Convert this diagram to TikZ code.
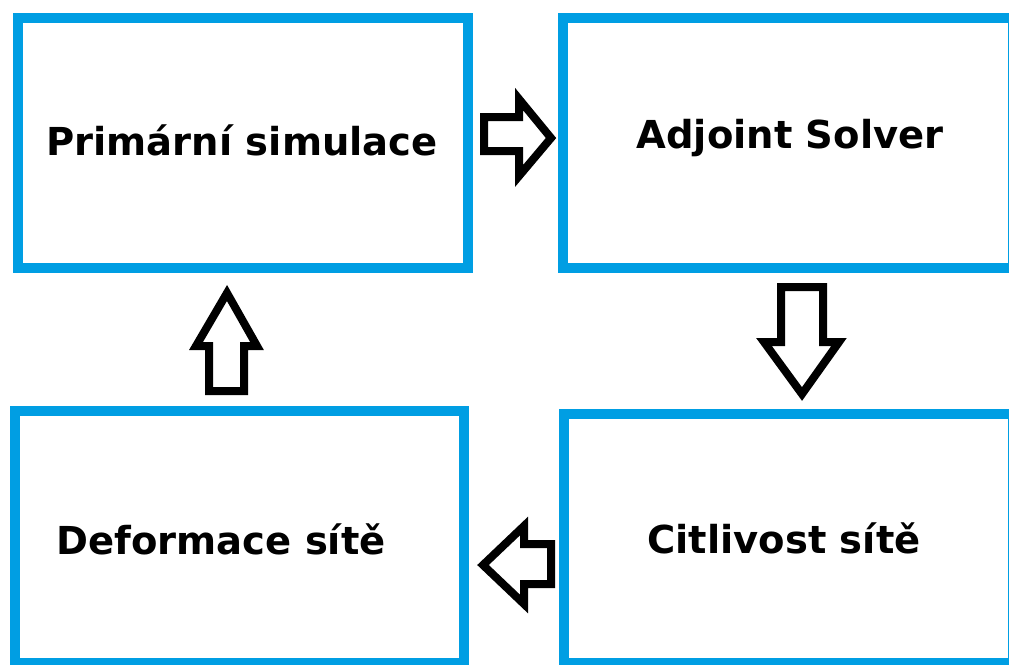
\documentclass[tikz,border=0pt]{standalone}
\usepackage{fontspec}
\setmainfont{DejaVu Sans}
\usepackage{tikz}
\definecolor{boxblue}{rgb}{0,0.62,0.89}

\begin{document}
\begin{tikzpicture}[line join=miter,x=1pt,y=-1pt,
  stepbox/.style={draw=boxblue,line width=10pt,inner sep=0pt,outer sep=0pt},
  boxtext/.style={anchor=base,inner sep=0pt,font=\fontsize{38.5}{46}\selectfont\bfseries},
  blockarrow/.style={draw=black,fill=white,line width=8pt}]
      \useasboundingbox (0,0) rectangle (1009,664);
      \clip (0,0) rectangle (1009,664);
      % boxes
      \node[stepbox,minimum width=450pt,minimum height=250pt] (prim) at (243,143) {};
      \node[stepbox,minimum width=450pt,minimum height=250pt] (adj) at (788,143) {};
      \node[stepbox,minimum width=449pt,minimum height=249pt] (citl) at (788.5,538.5) {};
      \node[stepbox,minimum width=449pt,minimum height=252pt] (defo) at (239.5,537) {};
      % texts
      \node[boxtext] (primtext) at (242,155) {Primární simulace};
      \node[boxtext] (adjtext) at (790,148) {Adjoint Solver};
      \node[boxtext] (citltext) at (784,553) {Citlivost sítě};
      \node[boxtext] (defotext) at (221,554) {Deformace sítě};
      % block arrows
      \draw[blockarrow] (484,117) -- (519,117) -- (519,99) -- (551,138) -- (519,176) -- (519,151) -- (484,151) -- cycle;
      \draw[blockarrow] (781,287) -- (823,287) -- (823,342) -- (839,342) -- (802,394) -- (764,342) -- (781,342) -- cycle;
      \draw[blockarrow] (551,544) -- (551,584) -- (524,584) -- (524,604) -- (483,565) -- (524,526) -- (524,544) -- cycle;
      \draw[blockarrow] (209,391) -- (244,391) -- (244,346) -- (257,346) -- (227,293) -- (196,346) -- (209,346) -- cycle;
\end{tikzpicture}
\end{document}
